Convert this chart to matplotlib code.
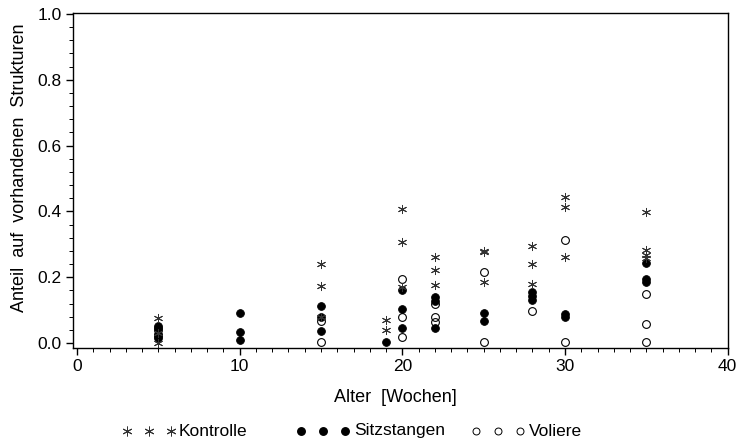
import matplotlib
matplotlib.use("Agg")
import matplotlib.pyplot as plt
from matplotlib.ticker import MultipleLocator
from matplotlib.lines import Line2D

plt.rcParams['font.family'] = ['Liberation Sans', 'DejaVu Sans']

# Data (age in weeks, proportion)
kontrolle_x = [5, 5, 5, 15, 15, 15, 19, 19, 20, 20, 20, 22, 22, 22,
               25, 25, 25, 28, 28, 28, 30, 30, 30, 35, 35, 35, 35]
kontrolle_y = [0.077, 0.03, 0.0, 0.240, 0.173, 0.079, 0.070, 0.040,
               0.407, 0.306, 0.171, 0.261, 0.222, 0.176,
               0.280, 0.276, 0.186, 0.296, 0.239, 0.178,
               0.443, 0.412, 0.262, 0.397, 0.283, 0.267, 0.257]

sitz_x = [5, 5, 5, 5, 10, 10, 10, 15, 15, 15, 19, 20, 20, 20,
          22, 22, 22, 25, 25, 28, 28, 28, 30, 30, 35, 35, 35]
sitz_y = [0.052, 0.040, 0.027, 0.014, 0.090, 0.033, 0.009,
          0.112, 0.079, 0.036, 0.002, 0.162, 0.102, 0.047,
          0.141, 0.129, 0.047, 0.090, 0.068,
          0.155, 0.142, 0.131, 0.087, 0.078, 0.242, 0.194, 0.186]

vol_x = [5, 5, 15, 15, 20, 20, 20, 22, 22, 22, 25, 25, 28, 30, 30,
         35, 35, 35]
vol_y = [0.045, 0.020, 0.068, 0.002, 0.195, 0.080, 0.019,
         0.118, 0.080, 0.065, 0.217, 0.002, 0.098, 0.313, 0.002,
         0.150, 0.057, 0.002]

series_labels = ["Kontrolle", "Sitzstangen", "Voliere"]
x_ticks = [0, 10, 20, 30, 40]
y_ticks = [0.0, 0.2, 0.4, 0.6, 0.8, 1.0]

W, H = 737, 442
fig = plt.figure(figsize=(W / 100, H / 100), dpi=100)
ax = fig.add_axes([72.7 / W, 1 - 348 / H, (727.7 - 72.7) / W, (348 - 13) / H])

star = (6, 2, 0)
ax.plot(vol_x, vol_y, linestyle='none', marker='o', markersize=5.6,
        markerfacecolor='none', markeredgecolor='black', markeredgewidth=0.8)
ax.plot(sitz_x, sitz_y, linestyle='none', marker='o', markersize=5.6,
        markerfacecolor='black', markeredgecolor='black', markeredgewidth=0.6)
ax.plot(kontrolle_x, kontrolle_y, linestyle='none', marker=star, markersize=6.5,
        markeredgecolor='#333333', markeredgewidth=0.7)

ax.set_xlim(-0.264, 40)
ax.set_ylim(-0.0152, 1.003)
ax.set_xticks(x_ticks)
ax.set_xticklabels([str(t) for t in x_ticks])
ax.set_yticks(y_ticks)
ax.set_yticklabels([f"{t:.1f}" for t in y_ticks])
ax.xaxis.set_minor_locator(MultipleLocator(1))
ax.yaxis.set_minor_locator(MultipleLocator(0.04))
ax.tick_params(which='major', direction='out', length=5, width=1, labelsize=12.5, pad=3)
ax.tick_params(which='minor', direction='out', length=3, width=0.7)
for s in ax.spines.values():
    s.set_linewidth(1.0)

ax.set_xlabel("Alter  [Wochen]", fontsize=13)
ax.set_ylabel("Anteil  auf  vorhandenen  Strukturen", fontsize=13)
ax.xaxis.set_label_coords((395 - 72.7) / 655, -(397 - 348) / 335)
ax.yaxis.set_label_coords((19 - 72.7) / 655, (348 - 168) / 335)
ax.xaxis.label.set_va('center')
ax.yaxis.label.set_va('center')

# Manual legend below the plot (figure pixel coordinates)
leg_y = 1 - 431 / H
leg_items = [
    (series_labels[0], [127, 149, 171], 179,
     dict(marker=star, markersize=7, markeredgecolor='#333333', markeredgewidth=0.7)),
    (series_labels[1], [301, 323, 345], 354,
     dict(marker='o', markersize=5.4, markerfacecolor='black', markeredgecolor='black')),
    (series_labels[2], [476, 498, 520], 529,
     dict(marker='o', markersize=5.0, markerfacecolor='none', markeredgecolor='black',
          markeredgewidth=0.7)),
]
for label, mx, tx, style in leg_items:
    fig.add_artist(Line2D([p / W for p in mx], [leg_y] * 3, linestyle='none',
                          transform=fig.transFigure, **style))
    fig.text(tx / W, leg_y, label, fontsize=12.5, va='center', ha='left')

fig.savefig("out.png", dpi=100)
